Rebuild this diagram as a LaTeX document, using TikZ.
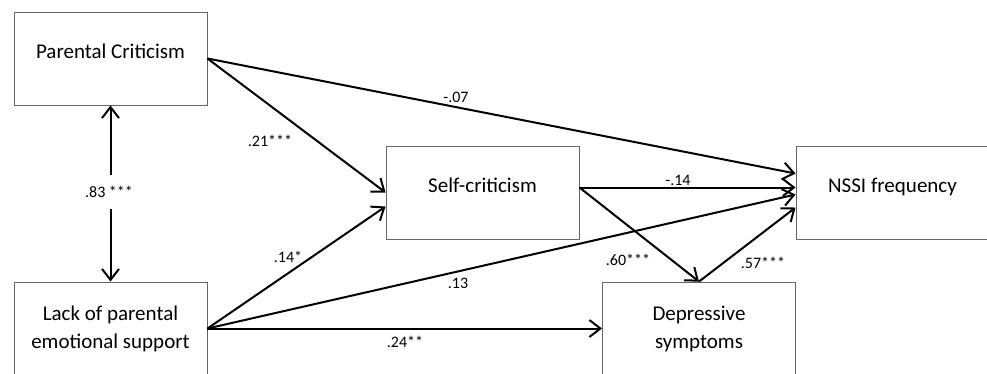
\documentclass[tikz,border=0pt]{standalone}
\usepackage{fontspec}
\setmainfont{Carlito}
\usetikzlibrary{arrows.meta}

\tikzset{
  varbox/.style={draw=black!60, line width=0.9pt, minimum width=193pt,
    minimum height=93pt, align=center, font=\fontsize{21}{28}\selectfont},
  onebox/.style={varbox, text height=14pt, text depth=14pt},
  pathline/.style={line width=2pt, -{Straight Barb[length=11pt,width=17pt]}},
  coef/.style={font=\fontsize{16}{19}\selectfont, inner sep=1pt}
}

\begin{document}
\begin{tikzpicture}[x=1pt,y=1pt]
    \clip (0,0) rectangle (987,-373);
    % variables
    \node[onebox] (pc) at (110.5,-58.5) {Parental Criticism};
    \node[varbox] (lack) at (110.5,-328.5) {Lack of parental\\emotional support};
    \node[onebox] (self) at (482.5,-192.5) {Self-criticism};
    \node[onebox] (nssi) at (892.5,-192.5) {NSSI frequency};
    \node[varbox] (dep) at (699,-328.5) {Depressive\\symptoms};
    % coefficients
    \node[coef, minimum height=34pt] (l83) at (109,-192) {.83 ***};
    \node[coef] (l07) at (456,-97) {-.07};
    \node[coef] (l21) at (270,-141) {.21***};
    \node[coef] (l14) at (288,-257) {.14*};
    \node[coef] (l13) at (458,-283) {.13};
    \node[coef] (l24) at (405,-342) {.24**};
    \node[coef] (l14n) at (678,-180) {-.14};
    \node[coef] (l60) at (628,-260) {.60***};
    \node[coef] (l57) at (763,-263) {.57***};
    % paths
    \draw[pathline] (l83.north -| pc.south) -- (pc.south);
    \draw[pathline] (l83.south -| lack.north) -- (lack.north);
    \draw[pathline] (pc.east) -- ([yshift=19]nssi.west);
    \draw[pathline] (pc.east) -- (self.west);
    \draw[pathline] (lack.east) -- ([yshift=-14]self.west);
    \draw[pathline] (lack.east) -- ([yshift=-2]nssi.west);
    \draw[pathline] (lack.east) -- (dep.west);
    \draw[pathline] ([yshift=5]self.east) -- ([yshift=5]nssi.west);
    \draw[pathline] ([yshift=5]self.east) -- (dep.north);
    \draw[pathline] (dep.north) -- ([yshift=-15]nssi.west);
\end{tikzpicture}
\end{document}
